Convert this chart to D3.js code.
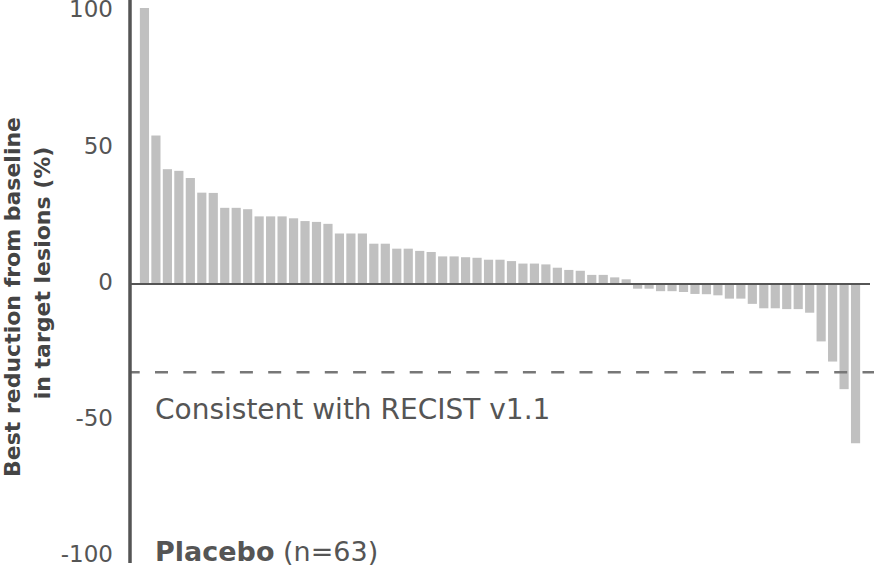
<!DOCTYPE html>
<html>
<head>
<meta charset="utf-8">
<script src="https://cdn.jsdelivr.net/npm/d3@7"></script>
<style>
    body { margin: 0; background: #fff; }
    svg text { font-family: "DejaVu Sans", sans-serif; }
</style>
</head>
<body>
<div id="chart"></div>
<script>

// best % change from baseline, one value per patient, sorted
const bestChange = [
    100, 53.8, 41.6, 41.0, 38.4, 33.1, 33.0, 27.6, 27.6, 27.1,
    24.5, 24.5, 24.5, 23.8, 22.8, 22.5, 21.8, 18.3, 18.3, 18.3,
    14.6, 14.6, 12.8, 12.8, 12.0, 11.6, 10.0, 10.0, 9.7, 9.5,
    8.8, 8.8, 8.3, 7.4, 7.4, 7.1, 5.9, 5.1, 4.8, 3.3,
    3.3, 2.4, 1.7, -1.7, -1.7, -2.6, -2.6, -2.9, -3.6, -3.7,
    -4.1, -5.3, -5.3, -7.2, -8.8, -8.8, -9.1, -9.1, -10.4, -20.8,
    -28.1, -38.1, -57.7
];
const patients = bestChange.map(function(d, i) { return "P" + (i + 1); });
const yTicks = [-100, -50, 0, 50, 100];
const recistCut = -32;
const armName = "Placebo";
const armN = "(n=63)";

const width = 874, height = 568;

const svg = d3.select("#chart").append("svg")
    .attr("width", width)
    .attr("height", height);

const x = d3.scaleBand()
    .domain(patients)
    .range([130, 870])
    .paddingInner(0.2)
    .paddingOuter(0.86);

const y = d3.scaleLinear()
    .domain([-100, 100])
    .range([560, 8]);

// bars
svg.append("g")
    .selectAll("rect")
    .data(bestChange)
    .join("rect")
    .attr("x", function(d, i) { return x(patients[i]); })
    .attr("width", x.bandwidth())
    .attr("y", function(d) { return y(Math.max(0, d)); })
    .attr("height", function(d) { return Math.abs(y(d) - y(0)); })
    .attr("fill", "#c0c0c0");

// zero line
svg.append("line")
    .attr("x1", 130).attr("x2", 870)
    .attr("y1", y(0)).attr("y2", y(0))
    .attr("stroke", "#555")
    .attr("stroke-width", 2);

// RECIST threshold
svg.append("line")
    .attr("x1", 130).attr("x2", 874)
    .attr("y1", y(recistCut)).attr("y2", y(recistCut))
    .attr("stroke", "#777")
    .attr("stroke-width", 2.5)
    .attr("stroke-dasharray", "13 15.3")
    .attr("stroke-dashoffset", 3.3);

// y axis
const yAxis = d3.axisLeft(y)
    .tickValues(yTicks)
    .tickFormat(function(d) { return String(d); })
    .tickSize(0)
    .tickPadding(17);

const gy = svg.append("g")
    .attr("transform", "translate(130,0)")
    .call(yAxis);

gy.select(".domain").remove();
// labels in the original sit a little closer together than the gridline values
gy.selectAll("text")
    .attr("y", function(d) { return -2 + 0.036 * d; })
    .attr("font-size", 23)
    .attr("fill", "#555");

svg.append("line")
    .attr("x1", 130).attr("x2", 130)
    .attr("y1", 0).attr("y2", 563)
    .attr("stroke", "#555")
    .attr("stroke-width", 3.5);

// y title
svg.append("text")
    .attr("transform", "translate(20,297) rotate(-90)")
    .attr("text-anchor", "middle")
    .attr("font-size", 22)
    .attr("font-weight", "bold")
    .attr("fill", "#444")
    .text("Best reduction from baseline");

svg.append("text")
    .attr("transform", "translate(50,273) rotate(-90)")
    .attr("text-anchor", "middle")
    .attr("font-size", 22)
    .attr("font-weight", "bold")
    .attr("fill", "#444")
    .text("in target lesions (%)");

// annotations
svg.append("text")
    .attr("x", 155)
    .attr("y", 419)
    .attr("font-size", 28)
    .attr("fill", "#555")
    .text("Consistent with RECIST v1.1");

const arm = svg.append("text")
    .attr("x", 155)
    .attr("y", 561)
    .attr("font-size", 27)
    .attr("fill", "#555");

arm.append("tspan")
    .attr("font-weight", "bold")
    .text(armName);

arm.append("tspan")
    .text(" " + armN);

</script>
</body>
</html>
